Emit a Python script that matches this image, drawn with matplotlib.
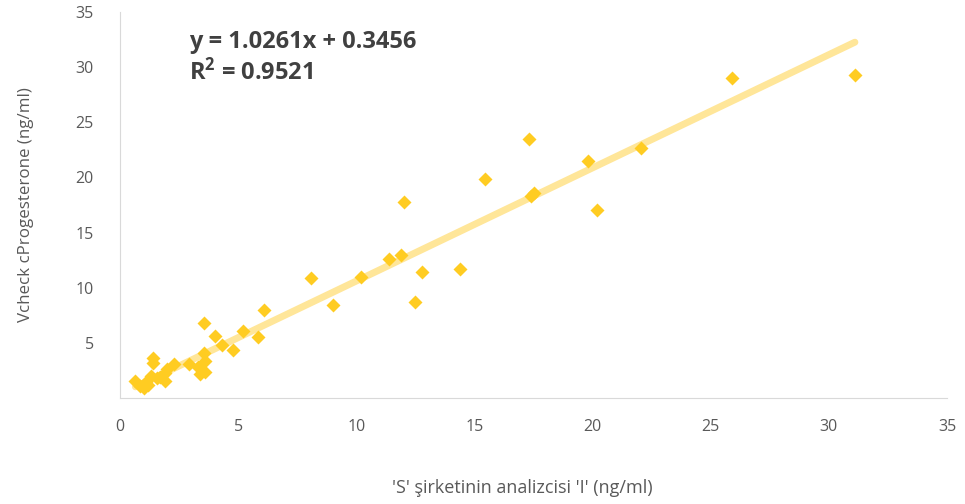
import numpy as np
import matplotlib.pyplot as plt

# reading values off the reference
s_analyzer = [31.1, 25.9, 22.05, 19.8, 20.2, 17.3, 17.5, 17.4, 15.45, 12.0,
              11.9, 11.4, 12.8, 14.4, 12.5, 10.2, 8.1, 9.0, 6.1, 5.2,
              5.85, 3.55, 4.0, 4.3, 4.8, 3.55, 3.6, 3.3, 3.4, 2.9,
              2.3, 1.4, 1.4, 1.9, 1.9, 1.55, 1.3, 1.1, 0.85, 0.65,
              1.0, 3.6, 1.7, 1.2, 2.0]
vcheck = [29.3, 29.0, 22.7, 21.5, 17.0, 23.5, 18.6, 18.3, 19.9, 17.8,
          13.0, 12.6, 11.4, 11.7, 8.7, 11.0, 10.9, 8.4, 8.0, 6.1,
          5.5, 6.8, 5.6, 4.8, 4.35, 4.1, 3.4, 2.8, 2.2, 3.1,
          3.1, 3.6, 3.2, 2.3, 1.5, 1.8, 2.0, 1.45, 1.1, 1.5,
          0.9, 2.4, 1.9, 1.2, 2.6]

slope, intercept = 1.0261, 0.3456
r2 = 0.9521

plt.rcParams['font.family'] = ['Open Sans', 'DejaVu Sans']

fig = plt.figure(figsize=(9.65, 5.04), dpi=100)
ax = fig.add_axes([0.1244, 0.2103, 0.857, 0.766])

xs = np.array([min(s_analyzer), max(s_analyzer)])
ax.plot(xs, slope * xs + intercept, color='#FFE699', lw=5, solid_capstyle='round', zorder=1)
ax.plot(s_analyzer, vcheck, 'D', color='#FFCC22', markersize=7.6, mec='none', zorder=2)

ax.set_xlim(0, 35)
ax.set_ylim(0, 35)
ax.set_xticks(range(0, 36, 5))
ax.set_yticks(range(5, 36, 5))
ax.tick_params(length=0, labelsize=11.5, labelcolor='#595959')
ax.tick_params(axis='x', pad=15)
ax.tick_params(axis='y', pad=19)

for side in ['top', 'right']:
    ax.spines[side].set_visible(False)
for side in ['left', 'bottom']:
    ax.spines[side].set_color('#D9D9D9')

ax.set_xlabel("'S' şirketinin analizcisi 'I' (ng/ml)", fontsize=13, color='#595959', labelpad=32)
ax.xaxis.label.set_x(0.487)
ax.set_ylabel('Vcheck cProgesterone (ng/ml)', fontsize=12.2, color='#595959', labelpad=30)

ax.text(2.9, 33.4, f'y = {slope}x + {intercept}\n$\\mathregular{{R^2}}$ = {r2}',
        fontsize=17, fontweight='bold', color='#404040', va='top', ha='left', linespacing=1.22)

fig.savefig('out.png')
